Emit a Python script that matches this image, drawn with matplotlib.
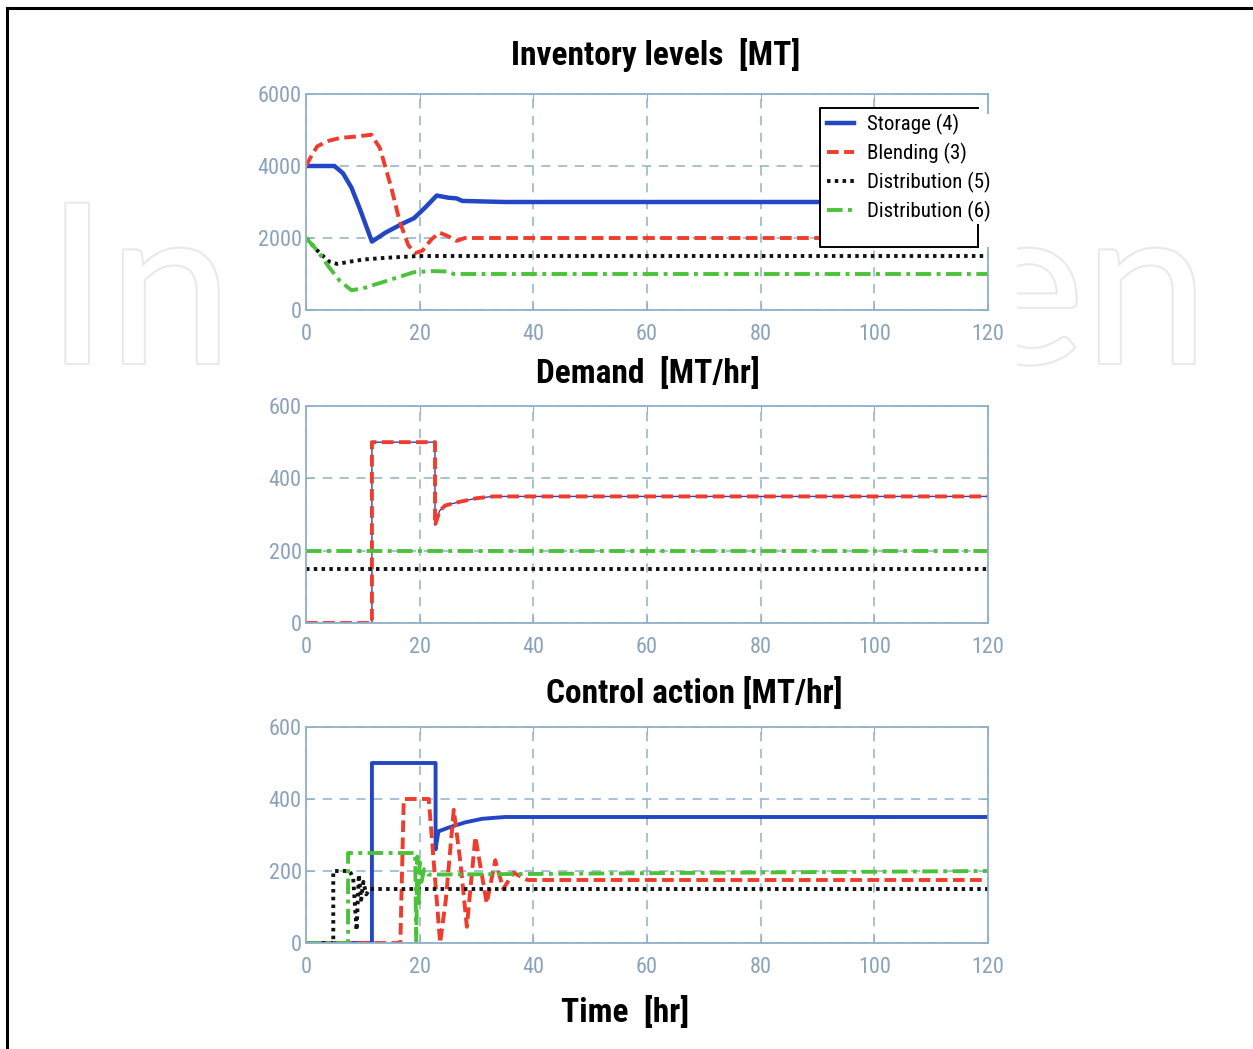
import matplotlib
matplotlib.use('Agg')
import matplotlib.pyplot as plt
from matplotlib import font_manager as fm
from matplotlib.patches import Rectangle
from matplotlib.transforms import Bbox
import matplotlib.patheffects as pe

# ---- inventory levels [MT] ----
inv_t_storage = [0, 5, 6.5, 8, 9.5, 11.6, 14, 17, 19, 21, 23, 25, 26.5, 27.5, 35, 120]
inv_storage = [4000, 4000, 3800, 3400, 2800, 1900, 2150, 2400, 2550, 2850, 3180, 3120, 3100, 3030, 3000, 3000]

inv_t_blend = [0, 1, 2, 4, 6, 9, 11.5, 13, 15, 16.5, 18, 19.2, 20.5, 22, 23.5, 25, 26.5, 28, 120]
inv_blend = [4000, 4300, 4550, 4700, 4780, 4820, 4870, 4500, 3400, 2450, 1800, 1580, 1650, 1950, 2150, 2050, 1920, 2000, 2000]

inv_t_dist5 = [0, 2, 4, 5.5, 8, 10, 14, 20, 120]
inv_dist5 = [2000, 1650, 1350, 1280, 1350, 1400, 1450, 1500, 1500]

inv_t_dist6 = [0, 2, 4, 6, 8, 10, 13, 16, 19, 22, 25, 26, 120]
inv_dist6 = [2000, 1650, 1200, 800, 550, 600, 750, 900, 1050, 1080, 1070, 1000, 1000]

# ---- demand [MT/hr] ----
dem_t_blend = [0, 11.6, 11.6, 22.7, 22.7, 23.5, 24.5, 27, 30, 33, 120]
dem_blend = [0, 0, 500, 500, 270, 310, 325, 335, 345, 350, 350]
dem_t_dist = [0, 120]
dem_dist5 = [150, 150]
dem_dist6 = [200, 200]

# ---- control action [MT/hr] ----
ctl_t_storage = [0, 11.6, 11.6, 22.8, 22.8, 23.3, 25, 28, 31, 35, 120]
ctl_storage = [0, 0, 500, 500, 260, 310, 320, 335, 345, 350, 350]

ctl_t_blend = [0, 16.6, 17.2, 21.6, 22.6, 23.6, 24.6, 26.0, 27.2, 28.3, 29.8, 31.8, 33.3, 34.7, 36.5, 39, 120]
ctl_blend = [0, 0, 400, 400, 200, 0, 120, 370, 220, 45, 295, 110, 230, 150, 195, 175, 175]

ctl_t_dist5 = [0, 4.8, 4.8, 7.7, 8.3, 8.9, 9.3, 9.7, 10.1, 10.6, 11.2, 120]
ctl_dist5 = [0, 0, 200, 200, 180, 35, 190, 120, 170, 135, 150, 150]

ctl_t_dist6 = [0, 7.4, 7.4, 19.2, 19.4, 19.6, 19.8, 20.0, 20.3, 20.8, 21.5, 120]
ctl_dist6 = [0, 0, 250, 250, 5, 240, 100, 225, 170, 205, 190, 200]

labels = ['Storage (4)', 'Blending (3)', 'Distribution (5)', 'Distribution (6)']
xticks = [0, 20, 40, 60, 80, 100, 120]

c_blue = '#2246c4'
c_red = '#f03c2c'
c_black = '#111111'
c_green = '#4cc23a'
axcol = '#8fb0c8'
tickcol = '#8aa2ba'

# pick a narrow font if one is installed, else a plain Arial-like one
installed = {f.name for f in fm.fontManager.ttflist}
narrow_font = None
for cand in ['Roboto Condensed', 'Liberation Sans Narrow', 'Open Sans Condensed',
             'Noto Sans Condensed', 'DejaVu Sans Condensed']:
    if cand in installed:
        narrow_font = cand
        break
if narrow_font:
    fam, k = [narrow_font, 'DejaVu Sans'], 1.0
else:
    fam, k = ['Liberation Sans', 'DejaVu Sans'], 0.88

st_red = (0, (3, 1.4))
st_dot = (0, (0.9, 1.1))
st_dash_dot = (0, (4, 1.4, 1, 1.4))

W, H = 1253, 1049
fig = plt.figure(figsize=(W / 100, H / 100), dpi=100)

# faint watermark, hidden behind the plot block in the middle
wm_kw = dict(fontsize=160, family='Lato', color='white', zorder=0, va='baseline',
             path_effects=[pe.withStroke(linewidth=3, foreground='#e9e9e9')])
wm1 = fig.text(46 / W, 1 - 363 / H, 'In', ha='left', **wm_kw)
wm2 = fig.text(1208 / W, 1 - 363 / H, 'en', ha='right', **wm_kw)
wm2.set_clip_box(Bbox.from_extents(1017, 0, W, H))
wm2.set_clip_on(True)

# outer frame
fig.add_artist(plt.Line2D([7 / W, 7 / W], [0, 1 - 8 / H], color='black', lw=2.2,
                          transform=fig.transFigure))
fig.add_artist(plt.Line2D([7 / W, 1], [1 - 8 / H, 1 - 8 / H], color='black', lw=2.2,
                          transform=fig.transFigure))

left = 306 / W
width = (988 - 306) / W
ax1 = fig.add_axes([left, 1 - 310 / H, width, 216 / H])
ax2 = fig.add_axes([left, 1 - 623 / H, width, 217 / H])
ax3 = fig.add_axes([left, 1 - 943 / H, width, 216 / H])

lw = 2.8
ax1.plot(inv_t_storage, inv_storage, color=c_blue, lw=lw + 0.4, label=labels[0])
ax1.plot(inv_t_blend, inv_blend, color=c_red, lw=lw, ls=st_red, label=labels[1])
ax1.plot(inv_t_dist5, inv_dist5, color=c_black, lw=lw, ls=st_dot, label=labels[2])
ax1.plot(inv_t_dist6, inv_dist6, color=c_green, lw=lw, ls=st_dash_dot, label=labels[3])

ax2.plot(dem_t_blend, dem_blend, color=c_blue, lw=1.0)
ax2.plot(dem_t_blend, dem_blend, color=c_red, lw=lw, ls=st_red)
ax2.plot(dem_t_dist, dem_dist5, color=c_black, lw=lw, ls=st_dot)
ax2.plot(dem_t_dist, dem_dist6, color=c_green, lw=lw, ls=st_dash_dot)

ax3.plot(ctl_t_storage, ctl_storage, color=c_blue, lw=lw)
ax3.plot(ctl_t_blend, ctl_blend, color=c_red, lw=lw, ls=st_red)
ax3.plot(ctl_t_dist5, ctl_dist5, color=c_black, lw=lw, ls=st_dot)
ax3.plot(ctl_t_dist6, ctl_dist6, color=c_green, lw=lw, ls=st_dash_dot)

for ax, ymax, ystep in [(ax1, 6000, 2000), (ax2, 600, 200), (ax3, 600, 200)]:
    ax.set_zorder(2)
    ax.set_xlim(0, 120)
    ax.set_ylim(0, ymax)
    ax.set_xticks(xticks)
    ax.set_yticks(range(0, ymax + 1, ystep))
    ax.grid(True, ls=(0, (6, 5)), color=axcol, lw=1.1)
    for s in ax.spines.values():
        s.set_color(axcol)
        s.set_linewidth(1.3)
    ax.tick_params(direction='in', length=5, color=axcol, labelcolor=tickcol,
                   top=True, right=True, labelsize=16 * k, pad=3)
    ax.tick_params(axis='x', pad=10)
    for lab in ax.get_xticklabels() + ax.get_yticklabels():
        lab.set_family(fam)

title_kw = dict(ha='center', va='center', fontsize=24 * k, weight='bold', family=fam)
ax1.text(0.512, 1.18, 'Inventory levels  [MT]', transform=ax1.transAxes, **title_kw)
ax2.text(0.501, 1.152, 'Demand  [MT/hr]', transform=ax2.transAxes, **title_kw)
ax3.text(0.569, 1.157, 'Control action [MT/hr]', transform=ax3.transAxes, **title_kw)
ax3.text(0.468, -0.32, 'Time  [hr]', transform=ax3.transAxes, **title_kw)

# legend box: the labels run past its right edge, as in the source
box_x0, box_x1 = (820 - 306) / 682, (978 - 306) / 682
box_y0, box_y1 = (310 - 247) / 216, (310 - 108) / 216
ax1.add_patch(Rectangle((box_x0, box_y0), box_x1 - box_x0 + 0.04, box_y1 - box_y0 - 0.03,
                        transform=ax1.transAxes, facecolor='white', edgecolor='none',
                        zorder=4.4, clip_on=False))
edge_kw = dict(color='black', lw=1.4, transform=ax1.transAxes, clip_on=False, zorder=4.6)
ax1.plot([box_x1, box_x0, box_x0, box_x1], [box_y1, box_y1, box_y0, box_y0], **edge_kw)
ax1.plot([box_x1, box_x1], [box_y0, box_y0 + 0.1], **edge_kw)
leg = ax1.legend(loc='upper left', bbox_to_anchor=((823 - 306) / 682, (310 - 110) / 216),
                 frameon=False, borderaxespad=0, handlelength=1.3, handletextpad=0.6,
                 labelspacing=0.38, borderpad=0.2, prop={'family': fam, 'size': 15 * k})
leg.set_zorder(5)

fig.savefig('out.png', dpi=100, facecolor='white')
